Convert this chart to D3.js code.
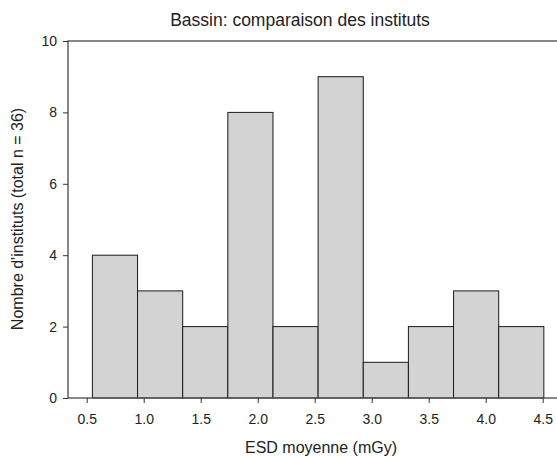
<!DOCTYPE html>
<html>
<head>
<meta charset="utf-8">
<script src="https://cdn.jsdelivr.net/npm/d3@7"></script>
<style>
  body { margin: 0; background: #fff; }
  text { font-family: "Liberation Sans", Arial, sans-serif; fill: #222; }
</style>
</head>
<body>
<div id="chart"></div>
<script>
// histogram bins (lower edge) and counts
const binStart = [0.55, 0.946, 1.342, 1.738, 2.134, 2.53, 2.926, 3.322, 3.718, 4.114];
const binWidth = 0.396;
const counts = [4, 3, 2, 8, 2, 9, 1, 2, 3, 2];
const xTicks = [0.5, 1.0, 1.5, 2.0, 2.5, 3.0, 3.5, 4.0, 4.5];
const yTicks = [0, 2, 4, 6, 8, 10];

const width = 557, height = 457;
const plotLeft = 68, plotTop = 41, plotBottom = 398, plotRight = 562;

const svg = d3.select('#chart').append('svg')
    .attr('width', width)
    .attr('height', height);

const x = d3.scaleLinear().domain([0.5, 4.5]).range([86.7, 542.7]);
const y = d3.scaleLinear().domain([0, 10]).range([plotBottom, plotTop]);

// bars
svg.append('g').selectAll('rect')
    .data(counts)
    .enter()
    .append('rect')
    .attr('x', (d, i) => x(binStart[i]))
    .attr('y', d => y(d))
    .attr('width', (d, i) => x(binStart[i] + binWidth) - x(binStart[i]))
    .attr('height', d => y(0) - y(d))
    .attr('fill', '#d3d3d3')
    .attr('stroke', '#1a1a1a')
    .attr('stroke-width', 1);

// frame
svg.append('rect')
    .attr('x', plotLeft).attr('y', plotTop)
    .attr('width', plotRight - plotLeft).attr('height', plotBottom - plotTop)
    .attr('fill', 'none')
    .attr('stroke', '#555')
    .attr('stroke-width', 1.4);

// axes
const xAxis = d3.axisBottom(x).tickValues(xTicks).tickFormat(d3.format('.1f')).tickSize(5).tickSizeOuter(0);
const gx = svg.append('g').attr('transform', `translate(0,${plotBottom})`).call(xAxis);
gx.select('.domain').remove();
gx.selectAll('line').attr('stroke', '#333');
gx.selectAll('text').attr('font-size', 14).attr('y', 16).attr('fill', '#333');

const yAxis = d3.axisLeft(y).tickValues(yTicks).tickSize(5).tickSizeOuter(0);
const gy = svg.append('g').attr('transform', `translate(${plotLeft},0)`).call(yAxis);
gy.select('.domain').remove();
gy.selectAll('line').attr('stroke', '#333');
gy.selectAll('text').attr('font-size', 14).attr('x', -11).attr('fill', '#333');

// titles
svg.append('text')
    .attr('x', 300).attr('y', 26)
    .attr('text-anchor', 'middle')
    .attr('font-size', 17.5)
    .text('Bassin: comparaison des instituts');

svg.append('text')
    .attr('x', 321).attr('y', 453)
    .attr('text-anchor', 'middle')
    .attr('font-size', 16)
    .text('ESD moyenne (mGy)');

svg.append('text')
    .attr('transform', 'translate(23,219) rotate(-90)')
    .attr('text-anchor', 'middle')
    .attr('font-size', 16)
    .text("Nombre d'instituts (total n = 36)");
</script>
</body>
</html>
